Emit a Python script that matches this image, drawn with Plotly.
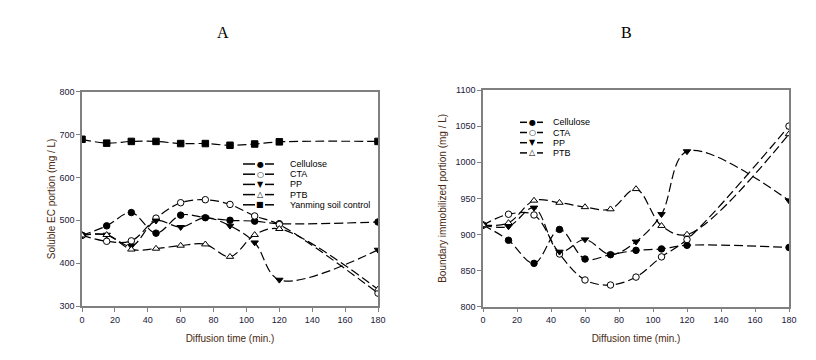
import plotly.graph_objects as go

# Diffusion times (min.)
time = [0, 15, 30, 45, 60, 75, 90, 105, 120, 180]

# Panel A: soluble EC portion (mg / L)
a_cellulose = [465, 487, 518, 470, 512, 506, 500, 498, 492, 496]
a_cta = [465, 451, 452, 505, 541, 548, 537, 510, 490, 330]
a_pp = [465, 466, 440, 499, 484, 506, 487, 448, 361, 431]
a_ptb = [465, 466, 432, 434, 441, 444, 415, 466, 480, 339]
a_yanming = [689, 680, 684, 684, 679, 679, 675, 678, 683, 684]

# Panel B: boundary immobilized portion (mg / L)
b_cellulose = [913, 892, 860, 907, 866, 872, 878, 880, 885, 882]
b_cta = [913, 928, 927, 873, 837, 830, 841, 869, 893, 1050]
b_pp = [913, 911, 937, 876, 893, 872, 890, 928, 1015, 947]
b_ptb = [913, 916, 947, 944, 938, 935, 963, 912, 900, 1039]

FONT = "Liberation Sans, Arial, sans-serif"
DASH = "9px,4px"
W, H = 816, 360
OFF = 8  # page body margin shifts the figure by this much


def px(x):
    return (x - OFF) / W


def py(y):
    return 1 - (y - OFF) / H


styles = {
    "Cellulose": dict(symbol="circle", color="black", glyph="\u25cf"),
    "CTA": dict(symbol="circle", color="white", glyph="\u25cb"),
    "PP": dict(symbol="triangle-down", color="black", glyph="\u25bc"),
    "PTB": dict(symbol="triangle-up", color="white", glyph="\u25b3"),
    "Yanming soil control": dict(symbol="square", color="black", glyph="\u25a0"),
}

panel_a = [("Cellulose", a_cellulose), ("CTA", a_cta), ("PP", a_pp),
           ("PTB", a_ptb), ("Yanming soil control", a_yanming)]
panel_b = [("Cellulose", b_cellulose), ("CTA", b_cta), ("PP", b_pp), ("PTB", b_ptb)]


def add_series(fig, name, y, xaxis, yaxis):
    st = styles[name]
    fig.add_trace(go.Scatter(
        x=time, y=y, name=name, mode="lines+markers",
        xaxis=xaxis, yaxis=yaxis, showlegend=False,
        line=dict(color="black", width=1.2, dash=DASH, shape="spline", smoothing=1),
        marker=dict(symbol=st["symbol"], size=6.5, color=st["color"],
                    line=dict(color="black", width=1)),
    ))


fig = go.Figure()
for name, y in panel_a:
    add_series(fig, name, y, "x", "y")
for name, y in panel_b:
    add_series(fig, name, y, "x2", "y2")

# Compact legend boxes (built from shapes + text so rows sit close together)
shapes = []
annotations = []


def add_legend(entries, x0, x1, xm, xt, y0, dy):
    for i, (name, _) in enumerate(entries):
        yy = py(y0 + i * dy)
        shapes.append(dict(type="line", xref="paper", yref="paper",
                           x0=px(x0), x1=px(xm - 5), y0=yy, y1=yy,
                           line=dict(color="black", width=1.5)))
        shapes.append(dict(type="line", xref="paper", yref="paper",
                           x0=px(xm + 5), x1=px(x1), y0=yy, y1=yy,
                           line=dict(color="black", width=1.5)))
        annotations.append(dict(text=styles[name]["glyph"], x=px(xm), y=yy,
                                xref="paper", yref="paper", showarrow=False,
                                xanchor="center", yanchor="middle",
                                font=dict(family="DejaVu Sans", size=8, color="black")))
        annotations.append(dict(text=name, x=px(xt), y=yy, xref="paper", yref="paper",
                                showarrow=False, xanchor="left", yanchor="middle",
                                font=dict(family=FONT, size=9, color="black")))


add_legend(panel_a, 243, 274, 260, 288, 164, 10.2)
add_legend(panel_b, 520, 543, 532, 551, 122.3, 10.2)

for label, xpos in [("A", 223), ("B", 626)]:
    annotations.append(dict(text=label, x=px(xpos), y=py(33), xref="paper", yref="paper",
                            showarrow=False, xanchor="center", yanchor="middle",
                            font=dict(family="Liberation Serif, Times New Roman, serif",
                                      size=16, color="black")))

axis_common = dict(
    showline=True, linecolor="#808080", linewidth=1.5, mirror=True,
    ticks="outside", ticklen=4, tickcolor="#808080",
    showgrid=False, zeroline=False, automargin=False,
    tickfont=dict(family=FONT, size=9, color="#1a1a3a"),
)
title_font = dict(family=FONT, size=10, color="#4a2a10")

fig.update_layout(
    width=W, height=H,
    margin=dict(l=0, r=0, t=0, b=0),
    paper_bgcolor="white", plot_bgcolor="white",
    xaxis=dict(domain=[px(82), px(378)], range=[0, 180], dtick=20, anchor="y",
               title=dict(text="Diffusion time (min.)", font=title_font, standoff=11),
               **axis_common),
    yaxis=dict(domain=[py(306), py(91.7)], range=[300, 800], dtick=100, anchor="x",
               title=dict(text="Soluble EC portion (mg / L)", font=title_font, standoff=2),
               **axis_common),
    xaxis2=dict(domain=[px(483), px(789)], range=[0, 180], dtick=20, anchor="y2",
                title=dict(text="Diffusion time (min.)", font=title_font, standoff=11),
                **axis_common),
    yaxis2=dict(domain=[py(306.7), py(90)], range=[800, 1100], dtick=50, anchor="x2",
                title=dict(text="Boundary immobilized portion (mg / L)", font=title_font, standoff=7),
                **axis_common),
    shapes=shapes,
    annotations=annotations,
)

fig.write_html("out.html")
